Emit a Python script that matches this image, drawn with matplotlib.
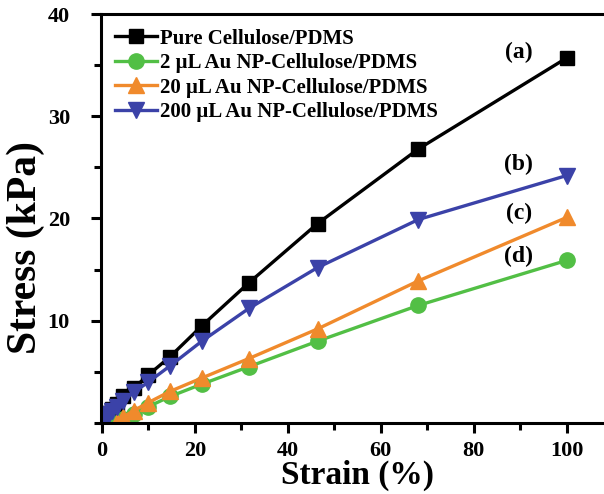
import numpy as np
import matplotlib as mpl
mpl.use("Agg")
import matplotlib.pyplot as plt
from matplotlib.ticker import MultipleLocator

# strain values (%)
strain = [0.46, 0.68, 1.0, 1.47, 2.15, 3.16, 4.64, 6.81, 10.0, 14.7, 21.5, 31.6, 46.4, 68.1, 100]
strain_au = [3.16, 4.64, 6.81, 10.0, 14.7, 21.5, 31.6, 46.4, 68.1, 100]

# stress (kPa)
pure = [0.3, 0.5, 0.7, 1.0, 1.4, 1.9, 2.6, 3.4, 4.7, 6.5, 9.5, 13.7, 19.5, 26.8, 35.7]
au200 = [0.3, 0.45, 0.65, 0.9, 1.2, 1.6, 2.2, 3.0, 4.0, 5.6, 8.0, 11.2, 15.2, 19.9, 24.2]
au20 = [0.1, 0.6, 1.2, 2.0, 3.1, 4.4, 6.3, 9.2, 13.9, 20.1]
au2 = [0.0, 0.4, 0.9, 1.6, 2.6, 3.8, 5.5, 8.0, 11.5, 15.9]

labels = ["Pure Cellulose/PDMS", "2 \u03bcL Au NP-Cellulose/PDMS",
          "20 \u03bcL Au NP-Cellulose/PDMS", "200 \u03bcL Au NP-Cellulose/PDMS"]
tags = ["(a)", "(b)", "(c)", "(d)"]
tag_y = [36.2, 25.3, 20.5, 16.3]

plt.rcParams["font.family"] = ["Liberation Serif", "DejaVu Serif"]
plt.rcParams["font.weight"] = "bold"

fig = plt.figure(figsize=(6.04, 4.94), dpi=100)
ax = fig.add_axes([100.5 / 604, 71 / 494, 514 / 604, 409 / 494])

lw = 2.4
l0, = ax.plot(strain, pure, "-s", color="black", lw=lw, ms=10.5)
l1, = ax.plot(strain_au, au2, "-o", color="#52bf45", lw=lw, ms=11)
l2, = ax.plot(strain_au, au20, "-^", color="#f08a2c", lw=lw, ms=11.5)
l3, = ax.plot(strain, au200, "-v", color="#3b42a8", lw=lw, ms=11.5)

for t, y in zip(tags, tag_y):
    ax.text(89.7, y, t, fontsize=17, fontweight="bold", ha="center", va="center")

ax.set_xlim(-0.3, 110.3)
ax.set_ylim(0, 40)
ax.xaxis.set_major_locator(MultipleLocator(20))
ax.xaxis.set_minor_locator(MultipleLocator(10))
ax.set_yticks([10, 20, 30, 40])
ax.set_yticks([0, 5, 15, 25, 35], minor=True)

for s in ax.spines.values():
    s.set_linewidth(2.2)
ax.tick_params(which="major", direction="out", length=7, width=2.2, labelsize=16)
ax.tick_params(which="minor", direction="out", length=5, width=2.2)
ax.tick_params(axis="y", which="major", pad=15)
ax.tick_params(axis="x", which="major", pad=6)
for lab in ax.get_xticklabels() + ax.get_yticklabels():
    lab.set_fontweight("bold")

ax.set_xlabel("Strain (%)", fontsize=24, fontweight="bold", labelpad=-1)
ax.set_ylabel("Stress (kPa)", fontsize=30, fontweight="bold", labelpad=2, y=0.43)

ax.legend([l0, l1, l2, l3], labels, loc="upper left", frameon=False,
          prop={"size": 15, "weight": "bold"}, handlelength=2.0,
          handletextpad=0.15, labelspacing=0.22, borderaxespad=0.1,
          borderpad=0.6)

fig.savefig("out.png", dpi=100)
